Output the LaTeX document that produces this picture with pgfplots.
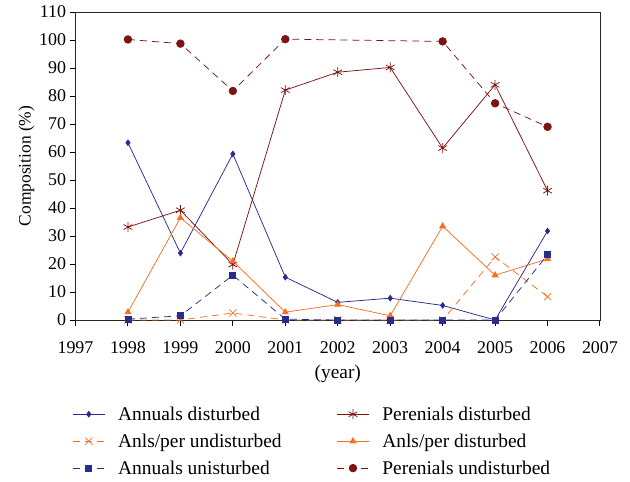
\documentclass[border=0pt]{standalone}
\usepackage{pgfplots}
\pgfplotsset{compat=1.18}
\usepackage{fontspec}
\setmainfont{Liberation Serif}
\definecolor{cblue}{RGB}{40,45,140}
\definecolor{cred}{RGB}{125,20,20}
\definecolor{corange}{RGB}{250,110,35}
\begin{document}
\begin{tikzpicture}
\begin{axis}[
  scale only axis,
  width=524.5bp, height=308bp,
  xmin=1997, xmax=2007, ymin=0, ymax=110,
  xtick={1997,...,2007}, ytick={0,10,...,110},
  /pgf/number format/assume math mode=true,
  /pgf/number format/1000 sep={},
  tick pos=left, tick align=outside,
  major tick length=6bp,
  tick style={black, line width=0.9pt},
  axis line style={line width=0.9pt, black!85},
  ticklabel style={font=\fontsize{18}{20}\selectfont},
  xticklabel style={yshift=-12bp},
  xlabel={(year)}, ylabel={Composition (\%)},
  xlabel style={font=\fontsize{19.5}{22}\selectfont, yshift=-5bp},
  ylabel style={font=\fontsize{17.5}{20}\selectfont, yshift=-2bp},
  every axis plot/.append style={line width=0.75pt},
  legend columns=2,
  legend cell align=left,
  legend style={draw=none, fill=none, at={(-0.012,-0.268)}, anchor=north west,
    font=\fontsize{19.5}{22}\selectfont, row sep=8bp,
    /tikz/every odd column/.append style={column sep=11bp},
    /tikz/every even column/.append style={column sep=53bp}},
  legend image code/.code={\draw[mark repeat=2,mark phase=2] plot coordinates {(0bp,0bp)(16bp,0bp)(32bp,0bp)};},
]
\addplot[cblue, mark=diamond*, mark size=2.8bp] coordinates {
(1998,63.3)(1999,23.9)(2000,59.3)(2001,15.3)(2002,6.3)(2003,7.8)(2004,5.2)(2005,0)(2006,31.8)};
\addlegendentry{Annuals disturbed}
\addplot[cred, mark=asterisk, mark size=5bp] coordinates {
(1998,33.2)(1999,39.2)(2000,19.8)(2001,82.1)(2002,88.5)(2003,90.2)(2004,61.4)(2005,84)(2006,46.2)};
\addlegendentry{Perenials disturbed}
\addplot[corange, dash pattern=on 7bp off 5bp, mark=x, mark size=5bp, mark options={solid}] coordinates {
(1998,0)(1999,0)(2000,2.5)(2001,0)(2002,0)(2003,0)(2004,0)(2005,22.5)(2006,8.3)};
\addlegendentry{Anls/per undisturbed}
\addplot[corange, mark=triangle*, mark size=3.4bp] coordinates {
(1998,2.8)(1999,36.5)(2000,21)(2001,2.8)(2002,5.5)(2003,1.5)(2004,33.5)(2005,16)(2006,21.8)};
\addlegendentry{Anls/per disturbed}
\addplot[cblue, dash pattern=on 7bp off 5bp, mark=square*, mark size=3bp, mark options={solid}] coordinates {
(1998,0.3)(1999,1.5)(2000,16)(2001,0.3)(2002,0)(2003,0)(2004,0)(2005,0)(2006,23.3)};
\addlegendentry{Annuals unisturbed}
\addplot[cred, dash pattern=on 7bp off 5bp, mark=*, mark size=3.8bp, mark options={solid}] coordinates {
(1998,100.2)(1999,98.7)(2000,81.8)(2001,100.3)(2004,99.5)(2005,77.4)(2006,69)};
\addlegendentry{Perenials undisturbed}
\end{axis}
\path (current axis.south west) ++(-75.5bp,-162bp) rectangle ++(630bp,482bp);
\end{tikzpicture}
\end{document}
